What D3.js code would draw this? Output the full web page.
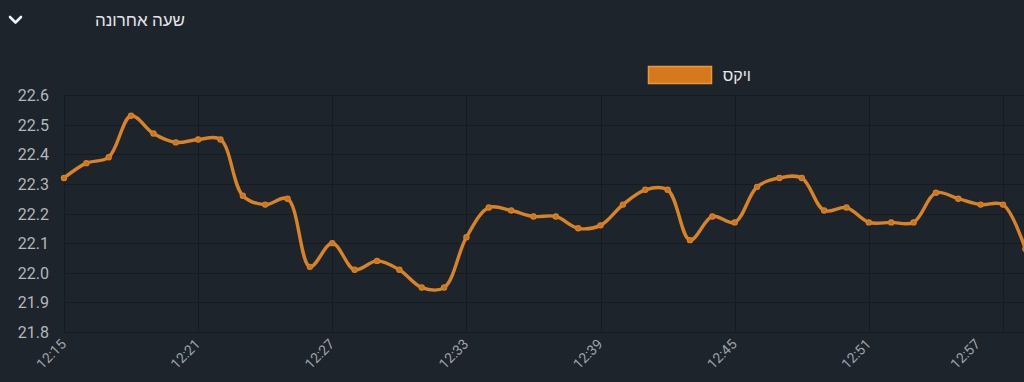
<!DOCTYPE html>
<html lang="he">
<head>
<meta charset="utf-8">
<script src="https://cdn.jsdelivr.net/npm/d3@7"></script>
<style>
  html, body { margin: 0; padding: 0; background: #1e242b; overflow: hidden; }
  svg { display: block; font-family: Roboto, "Noto Sans", sans-serif; }
</style>
</head>
<body>
<svg width="1024" height="382"></svg>
<script>
// DATA
const title = "שעה אחרונה";
const seriesName = "ויקס";
// one reading per minute, starting 12:15
const startTime = "12:15";
const values = [
  22.32, 22.37, 22.39, 22.53, 22.47, 22.44, 22.45, 22.45, 22.26, 22.23,
  22.25, 22.02, 22.10, 22.01, 22.04, 22.01, 21.95, 21.95, 22.12, 22.22,
  22.21, 22.19, 22.19, 22.15, 22.16, 22.23, 22.28, 22.28, 22.11, 22.19,
  22.17, 22.29, 22.32, 22.32, 22.21, 22.22, 22.17, 22.17, 22.17, 22.27,
  22.25, 22.23, 22.23, 22.08
];
const xTickLabels = ["12:15", "12:21", "12:27", "12:33", "12:39", "12:45", "12:51", "12:57"];
const yTicks = [21.8, 21.9, 22.0, 22.1, 22.2, 22.3, 22.4, 22.5, 22.6];

// SETUP
const svg = d3.select("svg");
const parseTime = d3.timeParse("%H:%M");

const t0 = parseTime(startTime);
const data = values.map((v, i) => ({ t: d3.timeMinute.offset(t0, i), v: v }));

// 12:15 sits at x=64, 12:57 at x=1003 (chart runs past the window)
const xScale = d3.scaleTime()
  .domain([parseTime("12:15"), parseTime("12:57")])
  .range([64, 1003]);
const yScale = d3.scaleLinear().domain([21.8, 22.6]).range([332, 95]);

const lineColor = "#d98327";

// header
svg.append("path")
  .attr("d", "M10,17 L15.5,22.5 L21,17")
  .attr("fill", "none")
  .attr("stroke", "#f2f2f2")
  .attr("stroke-width", 2.6)
  .attr("stroke-linecap", "round")
  .attr("stroke-linejoin", "round");

svg.append("text")
  .attr("x", 185).attr("y", 26)
  .attr("text-anchor", "end")
  .attr("fill", "#e3e5e8")
  .attr("font-size", 17)
  .text(title);

// legend
svg.append("rect")
  .attr("x", 648.5).attr("y", 66.5)
  .attr("width", 63).attr("height", 17)
  .attr("fill", "#d6781d")
  .attr("stroke", "#e9963f")
  .attr("stroke-width", 1.5);
svg.append("text")
  .attr("x", 751).attr("y", 81)
  .attr("text-anchor", "end")
  .attr("fill", "#e6e8ea")
  .attr("font-size", 16)
  .text(seriesName);

// grid
const grid = svg.append("g");
grid.selectAll("line.h")
  .data(yTicks)
  .enter()
  .append("line")
  .attr("class", "h")
  .attr("x1", 64).attr("x2", 1024)
  .attr("y1", (d) => Math.round(yScale(d)) + 0.5)
  .attr("y2", (d) => Math.round(yScale(d)) + 0.5)
  .attr("stroke", "#161b20")
  .attr("stroke-width", 1);

grid.selectAll("line.v")
  .data(xTickLabels)
  .enter()
  .append("line")
  .attr("class", "v")
  .attr("x1", (d) => Math.round(xScale(parseTime(d))) + 0.5)
  .attr("x2", (d) => Math.round(xScale(parseTime(d))) + 0.5)
  .attr("y1", 95).attr("y2", 332)
  .attr("stroke", "#161b20")
  .attr("stroke-width", 1);

// y axis labels
svg.append("g")
  .selectAll("text")
  .data(yTicks)
  .enter()
  .append("text")
  .attr("x", 49)
  .attr("y", (d) => yScale(d) + 6)
  .attr("text-anchor", "end")
  .attr("fill", "#b3b7bc")
  .attr("font-size", 16)
  .text((d) => d.toFixed(1));

// x axis labels, rotated; the last one is pulled in to stay in view
svg.append("g")
  .selectAll("text")
  .data(xTickLabels)
  .enter()
  .append("text")
  .attr("transform", (d, i) => {
    const shift = i === xTickLabels.length - 1 ? -25 : 0;
    return `translate(${xScale(parseTime(d)) + 3 + shift},${345}) rotate(-45)`;
  })
  .attr("text-anchor", "end")
  .attr("fill", "#9da3a9")
  .attr("font-size", 14)
  .text((d) => d);

// line
const line = d3.line()
  .x((d) => xScale(d.t))
  .y((d) => yScale(d.v))
  .curve(d3.curveCatmullRom.alpha(0.5));

svg.append("path")
  .datum(data)
  .attr("d", line)
  .attr("fill", "none")
  .attr("stroke", lineColor)
  .attr("stroke-width", 3.4)
  .attr("stroke-linejoin", "round");

svg.append("g")
  .selectAll("circle")
  .data(data)
  .enter()
  .append("circle")
  .attr("cx", (d) => xScale(d.t))
  .attr("cy", (d) => yScale(d.v))
  .attr("r", 2.6)
  .attr("fill", "#c9741f")
  .attr("stroke", lineColor)
  .attr("stroke-width", 1.2);
</script>
</body>
</html>
